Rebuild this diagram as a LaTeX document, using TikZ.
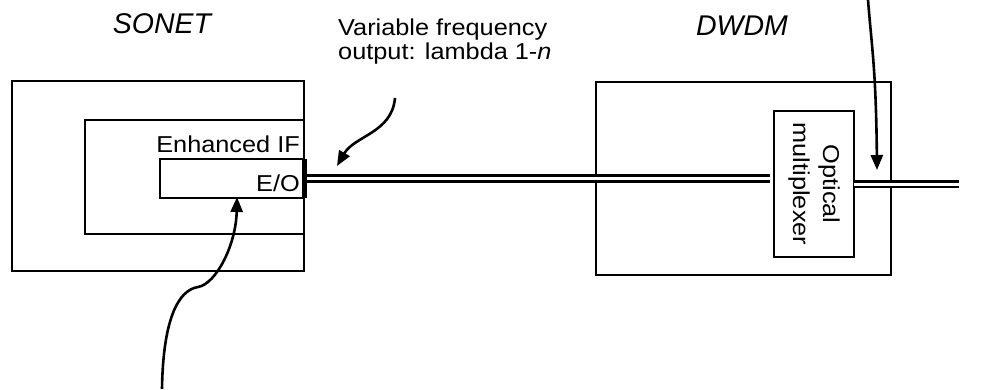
\documentclass[tikz,border=0pt]{standalone}
\usepackage{fontspec}
\setmainfont{Liberation Sans}
\newfontfamily\bodyfont{Liberation Sans}[FakeStretch=1.1]
\usetikzlibrary{arrows.meta,positioning}

\begin{document}
\begin{tikzpicture}[
  x=1pt, y=-1pt,
  box/.style={draw, line width=2.2pt, inner sep=0pt, outer sep=0pt},
  fiber/.style={double, double distance=3pt, line width=2.6pt},
  arr/.style={-{Triangle[length=15pt,width=12pt]}, line width=2.6pt},
  txt/.style={font=\bodyfont\fontsize{23}{24}\selectfont, inner sep=0pt},
  title/.style={font=\itshape\fontsize{28.5}{30}\selectfont, inner sep=0pt}
]
\useasboundingbox (0,0) rectangle (995,389);

% SONET side
\node[box, minimum width=292pt, minimum height=190pt] (sonet) at (158,176) {};
\node[box, minimum width=219pt, minimum height=114pt] (ifbox) at (194.5,177) {};
\node[box, minimum width=144pt, minimum height=39pt] (eo) at (232,178.5) {};
\draw[line width=5pt] ([xshift=0.5pt]eo.north east) -- ([xshift=0.5pt]eo.south east);
\node[txt, anchor=base east] (iflabel) at (300,152) {Enhanced IF};
\node[txt, anchor=base east] (eolabel) at (300,191) {E/O};

% DWDM side
\node[box, minimum width=295pt, minimum height=193pt] (dwdm) at (743.5,178.5) {};
\node[box, minimum width=80pt, minimum height=146pt] (mux) at (814,184) {};
\node[txt, font=\bodyfont\fontsize{23}{30}\selectfont, rotate=-90, align=center]
  (muxlabel) at (mux.center) {Optical\\multiplexer};

% fibers
\coordinate (fiberout) at (959,184);
\draw[fiber] ([xshift=3pt]eo.east) -- ([xshift=-4pt]eo.east -| mux.west);
\draw[fiber] (mux.east) -- (fiberout);

% titles
\node[title, anchor=base] (sonettitle) at (162,33) {SONET};
\node[title, anchor=base] (dwdmtitle) at (742,35) {DWDM};

% annotations
\node[txt, anchor=base west, align=left] (vf) at (338,59)
  {Variable frequency\\output: lambda 1-\textit{n}};
\coordinate (vftail) at (395,98);
\coordinate (vftip) at (337,166);
\draw[arr] (vftail) to[out=-95, in=60] (vftip);

\coordinate (eotail) at (162,389);
\coordinate (eotip) at (237,197);
\draw[arr] (eotail) .. controls (163,320) and (178,290) .. (198,287)
  .. controls (216,284) and (236,245) .. (eotip);

\coordinate (muxtail) at (868,0);
\coordinate (muxtip) at (877,170);
\draw[arr] (muxtail) .. controls (872,50) and (876,70) .. (muxtip);
\end{tikzpicture}
\end{document}
